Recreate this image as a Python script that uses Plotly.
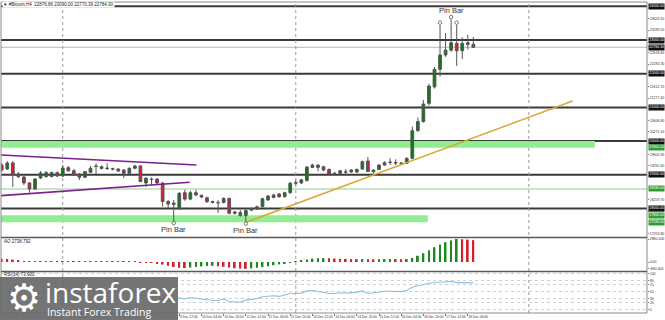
import plotly.graph_objects as go
import pandas as pd

# ---------------- data ----------------
opens = [19291, 19173, 19351, 19024, 18935, 18757, 18579, 18906, 18945, 18950, 19064,
         18965, 19210, 19120, 19024, 18925, 19076, 19262, 19240, 19200, 19180, 19170,
         19143, 19045, 19193, 19262, 18757, 18870, 18876, 18757, 18210, 18164, 17990,
         18470, 18280, 18470, 18390, 18320, 18210, 18180, 18180, 18300, 17900, 17880,
         17790, 17950, 17990, 18060, 18253, 18330, 18430, 18350, 18470, 18750, 18760,
         18830, 19220, 19290, 19240, 19160, 19045, 19045, 19090, 19143, 19084, 19170,
         19410, 19090, 19160, 19290, 19370, 19370, 19350, 19340, 19490, 20310, 20580,
         21120, 21610, 22130, 22555, 22700, 22900, 22680, 22920, 22876.86]
highs = [19351, 19410, 19410, 19084, 18965, 18787, 18906, 19113, 19113, 19100, 19100,
         19291, 19262, 19173, 19054, 19113, 19262, 19340, 19280, 19340, 19210, 19200,
         19173, 19220, 19300, 19290, 18930, 18925, 18900, 18790, 18250, 18253, 18490,
         18560, 18530, 18560, 18420, 18350, 18230, 18250, 18330, 18330, 17930, 17960,
         17970, 18030, 18090, 18320, 18400, 18440, 18460, 18500, 18790, 18840, 18880,
         19260, 19330, 19310, 19270, 19190, 19090, 19150, 19170, 19170, 19190, 19420,
         19530, 19170, 19310, 19400, 19490, 19460, 19380, 19520, 20430, 20700, 21220,
         21700, 22200, 23445, 23208, 23610, 23445, 23080, 23150, 23090.00]
lows = [19084, 19143, 18639, 18906, 18698, 18470, 18550, 18876, 18920, 18920, 18935,
        18935, 19090, 18965, 18846, 18906, 19054, 19024, 19160, 19143, 19130, 19090,
        18900, 19030, 19170, 18780, 18640, 18700, 18730, 18060, 17990, 17630, 17960,
        18230, 18250, 18370, 18310, 18170, 18150, 17870, 18150, 17830, 17820, 17760,
        17610, 17930, 17960, 18030, 18230, 18300, 18320, 18330, 18440, 18700, 18730,
        18800, 19200, 19100, 19110, 18990, 18990, 19020, 18990, 19060, 19060, 19150,
        19080, 19050, 19140, 19270, 19290, 19290, 19310, 19320, 19460, 20280, 20550,
        21050, 21560, 21910, 22500, 22650, 22230, 22430, 22720, 22770.39]
closes = [19143, 19351, 18995, 18945, 18757, 18579, 18876, 19054, 19064, 19064, 18965,
          19202, 19120, 18995, 18925, 19094, 19193, 19247, 19190, 19190, 19170, 19113,
          19045, 19193, 19262, 18800, 18900, 18860, 18757, 18210, 18134, 18120, 18450,
          18280, 18470, 18400, 18340, 18200, 18180, 18170, 18300, 17860, 17860, 17790,
          17940, 18000, 18050, 18290, 18370, 18400, 18350, 18470, 18750, 18770, 18850,
          19230, 19290, 19220, 19143, 19024, 19040, 19120, 19080, 19084, 19160, 19390,
          19100, 19140, 19290, 19360, 19375, 19350, 19340, 19490, 20310, 20580, 21100,
          21635, 22130, 22555, 22700, 22920, 22680, 22900, 22870, 22784.30]

ao = [420, 380, 300, 200,
      120, 60, 40, 30, 50, 40, 30,
      50, 60, 40, 20, 30, 50, 60, 70, 60, 50, 40, 20, 30, 40, -20, -60, -100,
      -160, -320, -480, -620, -720, -760,
      -700, -630, -560, -510, -480,
      -540, -600, -700, -780, -830, -860,
      -800, -730, -640, -520, -400, -300, -180, -80,
      60, 180, 320, 420, 470, 480, 460, 430, 400, 380, 360, 350, 360, 340, 330, 340,
      360, 370, 360, 350, 380,
      520, 780, 1100, 1480, 1850, 2200, 2480, 2700, 2880, 2850, 2800, 2738.792]

rsi = [50, 53, 44, 42, 37, 33, 41, 46, 48, 49, 46,
       52, 50, 46, 44, 48, 51, 52, 50, 50, 49, 48, 45, 49, 51,
       38, 41, 40, 37, 29, 27, 25,
       33, 30, 34, 32, 30, 27, 26, 26, 30, 23, 22, 21, 27, 29, 31,
       36, 38, 39, 37, 40, 45, 45, 46, 52, 53,
       51, 48, 45, 45, 47, 46, 46, 48, 52, 45, 47, 50, 51, 51, 50, 50, 53,
       62, 66, 70, 73, 75, 76, 76.5, 77.5, 74.5, 75, 74.5, 73.902]

last_time = "2020-12-18 08:00"

sr_levels = [24000, 23000, 22000, 21000, 20000, 19000, 18000]
thin_green_levels = [18580]
zone_tops = [20000, 17800]
zone_bottoms = [19800, 17590]
zone_ends = [106.9, 76.8]

purple_x = [[-0.3, 35.1], [-0.3, 33.9]]
purple_y = [[19588, 19291], [18380, 18778]]
gold_x = [44, 102.9]
gold_y = [17591, 21190]

pin_bottom = [31, 44]
pin_top = [81]
fractal_up = [79, 81, 82]

price_ticks = [23624.50, 23289.20, 22953.90, 22618.60, 22283.30, 21948.00, 21612.70,
               21277.40, 20942.10, 20606.80, 20271.50, 19936.20, 19600.90, 19265.60,
               18930.30, 18595.00, 18259.70, 17924.40, 17589.10, 17253.80]
rsi_ticks = [100, 80, 70, 50, 30, 20, 0]
vgrid_idx = [11, 53, 95]

# ---------------- build ----------------
n = len(opens)
idx = list(range(n))
times = pd.date_range(end=last_time, periods=n, freq="4h")
label_idx = [i for i in idx if (n - 1 - i) % 4 == 1]
label_txt = []
for i in label_idx:
    t = times[i]
    if i == label_idx[0]:
        label_txt.append(f"{t.day} {t:%b %Y}")
    else:
        label_txt.append(f"{t.day} {t:%b %H:%M}")

W, H = 665, 320
ML, MR, MT, MB = 1, 18, 2, 7
PW, PH = W - ML - MR, H - MT - MB


def px_x(p):
    return (p - ML) / PW


def px_y(p):
    return (H - MB - p) / PH


XR = [-0.13, 116.3]
FONT = "Liberation Sans"

fig = go.Figure()

fig.add_trace(go.Candlestick(
    x=idx, open=opens, high=highs, low=lows, close=closes,
    xaxis="x", yaxis="y", whiskerwidth=0,
    increasing=dict(fillcolor="#0b7a16", line=dict(color="#555555", width=1)),
    decreasing=dict(fillcolor="#d0203a", line=dict(color="#555555", width=1)),
    showlegend=False, hoverinfo="skip"))

for xs, ys in zip(purple_x, purple_y):
    fig.add_trace(go.Scatter(x=xs, y=ys, mode="lines", line=dict(color="#7d1f8f", width=1.6),
                             showlegend=False, hoverinfo="skip"))
fig.add_trace(go.Scatter(x=gold_x, y=gold_y, mode="lines", line=dict(color="#d9a730", width=1.6),
                         showlegend=False, hoverinfo="skip"))

fig.add_trace(go.Scatter(x=pin_bottom, y=[lows[i] - 60 for i in pin_bottom], mode="markers",
                         marker=dict(symbol="circle-open", size=3.5, color="#777", line=dict(width=1)),
                         showlegend=False, hoverinfo="skip"))
fig.add_trace(go.Scatter(x=fractal_up, y=[highs[i] + 70 for i in fractal_up], mode="markers",
                         marker=dict(symbol="circle-open", size=3.5, color="#777", line=dict(width=1)),
                         showlegend=False, hoverinfo="skip"))

ao_colors = ["#d61f2c" if (i == 0 or ao[i] < ao[i - 1]) else "#1a8a1a" for i in idx]
fig.add_trace(go.Bar(x=idx, y=ao, width=0.32, marker=dict(color=ao_colors, line=dict(width=0)),
                     xaxis="x", yaxis="y2", showlegend=False, hoverinfo="skip"))

fig.add_trace(go.Scatter(x=idx, y=rsi, mode="lines", line=dict(color="#8fbfdf", width=1.1),
                         xaxis="x", yaxis="y3", showlegend=False, hoverinfo="skip"))

shapes = []
for top, bot, end in zip(zone_tops, zone_bottoms, zone_ends):
    shapes.append(dict(type="rect", xref="x", yref="y", x0=XR[0], x1=end, y0=bot, y1=top,
                       fillcolor="#90ee90", line=dict(width=0), layer="below"))
shapes.append(dict(type="line", xref="paper", yref="y", x0=0, x1=1, y0=closes[-1], y1=closes[-1],
                   line=dict(color="#b5b5b5", width=1), layer="below"))
for lv in thin_green_levels:
    shapes.append(dict(type="line", xref="paper", yref="y", x0=0, x1=1, y0=lv, y1=lv,
                       line=dict(color="#94c894", width=1), layer="below"))
for lv in sr_levels:
    shapes.append(dict(type="line", xref="paper", yref="y", x0=0, x1=1, y0=lv, y1=lv,
                       line=dict(color="#3a3a3a", width=2), layer="below"))
for v in vgrid_idx:
    shapes.append(dict(type="line", xref="x", yref="paper", x0=v, x1=v, y0=0, y1=1,
                       line=dict(color="#9a9a9a", width=1, dash="dot"), layer="below"))
shapes.append(dict(type="rect", xref="paper", yref="paper", x0=0, x1=1, y0=0, y1=1,
                   line=dict(color="#8a8a8a", width=1)))
for py in (237.5, 271.5):
    shapes.append(dict(type="line", xref="paper", yref="paper", x0=0, x1=1,
                       y0=px_y(py), y1=px_y(py), line=dict(color="#5a5a5a", width=1.5)))
shapes.append(dict(type="rect", xref="paper", yref="paper", x0=px_x(0), x1=px_x(178),
                   y0=px_y(321), y1=px_y(277), fillcolor="rgba(105,105,105,0.92)",
                   line=dict(width=0), layer="above"))

ann = []
boxes = [(v, "#101010") for v in sr_levels] + [(closes[-1], "#101010")]
boxes += [(v, "#2f9e3a") for v in [zone_bottoms[0]] + thin_green_levels + [zone_tops[1], zone_bottoms[1]]]
for v, c in boxes:
    ann.append(dict(x=1, xref="paper", y=v, yref="y", xanchor="left", yanchor="middle",
                    xshift=0.5, text=f"{v:.2f}", showarrow=False, bgcolor=c, borderpad=0.3,
                    font=dict(size=3.5, color="white", family=FONT)))
for i in pin_bottom:
    ann.append(dict(x=i, y=lows[i], xref="x", yref="y", yshift=-9, text="Pin Bar",
                    showarrow=False, font=dict(size=7.5, color="#333", family=FONT)))
for i in pin_top:
    ann.append(dict(x=i, y=highs[i], xref="x", yref="y", yshift=9, text="Pin Bar",
                    showarrow=False, font=dict(size=7.5, color="#333", family=FONT)))
ann.append(dict(x=px_x(2), y=px_y(4), xref="paper", yref="paper", xanchor="left", yanchor="middle",
                text=f"▼ #Bitcoin,H4  {opens[-1]:.2f} {highs[-1]:.2f} {lows[-1]:.2f} {closes[-1]:.2f}",
                showarrow=False, bgcolor="white", borderpad=0, font=dict(size=4.5, color="#222", family=FONT)))
ann.append(dict(x=px_x(2), y=px_y(241), xref="paper", yref="paper", xanchor="left", yanchor="middle",
                text=f"AO {ao[-1]:.3f}", showarrow=False, font=dict(size=4.5, color="#222", family=FONT)))
ann.append(dict(x=px_x(2), y=px_y(274.5), xref="paper", yref="paper", xanchor="left", yanchor="middle",
                text=f"RSI(14) {rsi[-1]:.3f}", showarrow=False, font=dict(size=4.5, color="#222", family=FONT)))
ann.append(dict(x=px_x(24), y=px_y(298), xref="paper", yref="paper", xanchor="center", yanchor="middle",
                text="⚙", showarrow=False, font=dict(size=38, color="white", family="DejaVu Sans")))
ann.append(dict(x=px_x(43), y=px_y(292), xref="paper", yref="paper", xanchor="left", yanchor="middle",
                text="instaforex", showarrow=False, font=dict(size=28, color="white", family="Open Sans")))
ann.append(dict(x=px_x(45), y=px_y(312), xref="paper", yref="paper", xanchor="left", yanchor="middle",
                text="Instant Forex Trading", showarrow=False, font=dict(size=10.5, color="white", family="Open Sans")))

box_vals = [v for v, _ in boxes]
pt = [t for t in price_ticks if min(abs(t - b) for b in box_vals) > 70]

tickfont = dict(size=3.5, color="#333", family=FONT)
xtickfont = dict(size=3.3, color="#333", family=FONT)
fig.update_layout(
    width=W, height=H, margin=dict(l=ML, r=MR, t=MT, b=MB, pad=0),
    paper_bgcolor="white", plot_bgcolor="white", showlegend=False,
    xaxis=dict(domain=[0, 1], range=XR, anchor="y3", tickvals=label_idx, ticktext=label_txt,
               tickfont=xtickfont, ticks="outside", ticklen=2, tickcolor="#777",
               ticklabelposition="outside right", showgrid=False, zeroline=False,
               rangeslider=dict(visible=False), automargin=False, tickangle=0),
    yaxis=dict(domain=[px_y(237), 1], range=[17155, 24127.5], side="right", anchor="x",
               tickvals=pt, ticktext=[f"{t:.2f}" for t in pt], tickfont=tickfont,
               ticks="outside", ticklen=1, tickcolor="#777", showgrid=False, zeroline=False,
               automargin=False),
    yaxis2=dict(domain=[px_y(271), px_y(238)], range=[-1127, 3005], side="right", anchor="x",
                tickvals=[max(ao), 0, min(ao)],
                ticktext=[f"{max(ao):.3f}", "0.00", f"{min(ao):.3f}"], tickfont=tickfont,
                ticks="outside", ticklen=1, tickcolor="#777", showgrid=False, zeroline=False,
                automargin=False),
    yaxis3=dict(domain=[0, px_y(272)], range=[-8.2, 103.5], side="right", anchor="x",
                tickvals=rsi_ticks, ticktext=[str(t) for t in rsi_ticks], tickfont=tickfont,
                ticks="outside", ticklen=1, tickcolor="#777", showgrid=True, gridcolor="#d0d0d0",
                griddash="dot", gridwidth=1, zeroline=False, automargin=False),
    shapes=shapes, annotations=ann,
)

fig.write_html("out.html")
